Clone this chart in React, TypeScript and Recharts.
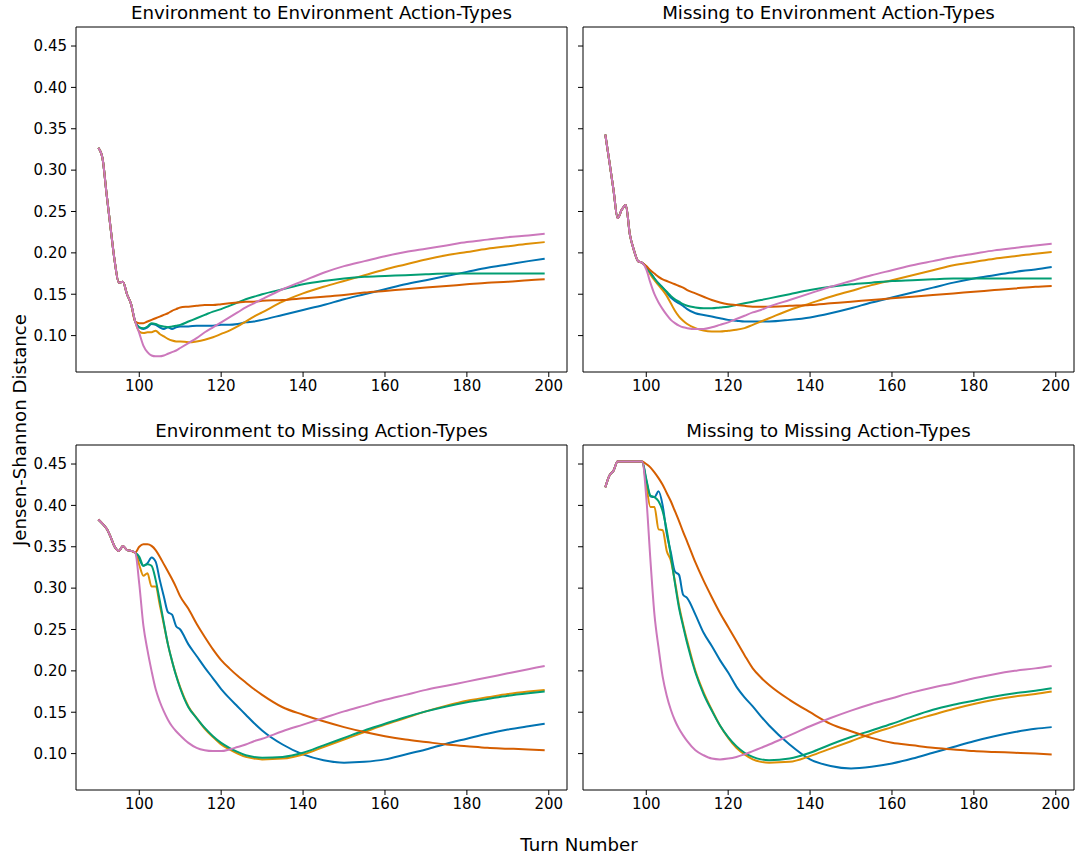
import { LineChart, Line, XAxis, YAxis, ReferenceArea } from 'recharts'

// turn numbers sampled along the x axis
const turns = [
  90, 91, 92, 93, 94, 95, 96, 97, 98, 99, 100, 101, 102, 103, 104, 105, 106, 107, 108, 109, 110,
  112, 114, 116, 118, 120, 122, 124, 126, 128, 130,
  135, 140, 145, 150, 155, 160, 165, 170, 175, 180, 185, 190, 195, 199,
]

const xTicks = [100, 120, 140, 160, 180, 200]
const yTicks = [0.1, 0.15, 0.2, 0.25, 0.3, 0.35, 0.4, 0.45]
const xDomain: [number, number] = [84.55, 204.45]
const yDomain: [number, number] = [0.056, 0.473]

const seriesKeys = ['blue', 'orange', 'green', 'red', 'pink']
const colors: Record<string, string> = {
  blue: '#0173b2',
  orange: '#de8f05',
  green: '#029e73',
  red: '#d55e00',
  pink: '#cc78bc',
}

// shared values for turns 90-99 (all lines coincide), then per-line values from turn 100
const envEnvHead = [0.327, 0.315, 0.272, 0.23, 0.19, 0.164, 0.165, 0.15, 0.138, 0.117]
const envEnvBlue = [0.110, 0.108, 0.110, 0.114, 0.113, 0.110, 0.108, 0.110, 0.108, 0.110, 0.111, 0.111, 0.112, 0.112, 0.112, 0.113, 0.113, 0.114, 0.116, 0.117, 0.119, 0.125, 0.131, 0.137, 0.144, 0.150, 0.156, 0.162, 0.167, 0.172, 0.177, 0.182, 0.186, 0.190, 0.193]
const envEnvOrange = [0.105, 0.103, 0.104, 0.104, 0.106, 0.102, 0.099, 0.096, 0.094, 0.093, 0.093, 0.092, 0.093, 0.095, 0.098, 0.102, 0.106, 0.111, 0.117, 0.123, 0.128, 0.141, 0.151, 0.159, 0.166, 0.173, 0.180, 0.186, 0.192, 0.197, 0.201, 0.205, 0.208, 0.211, 0.213]
const envEnvGreen = [0.110, 0.109, 0.111, 0.115, 0.114, 0.112, 0.111, 0.110, 0.111, 0.112, 0.113, 0.117, 0.121, 0.125, 0.129, 0.132, 0.136, 0.140, 0.144, 0.147, 0.150, 0.156, 0.162, 0.166, 0.169, 0.171, 0.172, 0.173, 0.174, 0.175, 0.175, 0.175, 0.175, 0.175, 0.175]
const envEnvRed = [0.115, 0.115, 0.117, 0.119, 0.121, 0.123, 0.125, 0.127, 0.130, 0.132, 0.134, 0.135, 0.136, 0.137, 0.137, 0.138, 0.139, 0.140, 0.141, 0.141, 0.142, 0.143, 0.145, 0.147, 0.149, 0.152, 0.154, 0.156, 0.158, 0.160, 0.162, 0.164, 0.165, 0.167, 0.168]
const envEnvPink = [0.103, 0.088, 0.080, 0.076, 0.075, 0.075, 0.076, 0.078, 0.080, 0.082, 0.085, 0.091, 0.097, 0.104, 0.110, 0.116, 0.122, 0.128, 0.134, 0.139, 0.144, 0.156, 0.166, 0.176, 0.184, 0.190, 0.196, 0.201, 0.205, 0.209, 0.213, 0.216, 0.219, 0.221, 0.223]

const misEnvHead = [0.343, 0.31, 0.276, 0.242, 0.252, 0.258, 0.222, 0.203, 0.19, 0.188]
const misEnvBlue = [0.183, 0.176, 0.169, 0.163, 0.158, 0.152, 0.146, 0.142, 0.139, 0.136, 0.132, 0.127, 0.125, 0.123, 0.121, 0.119, 0.118, 0.117, 0.117, 0.117, 0.117, 0.119, 0.122, 0.127, 0.133, 0.140, 0.146, 0.152, 0.158, 0.164, 0.169, 0.173, 0.177, 0.180, 0.183]
const misEnvOrange = [0.183, 0.174, 0.167, 0.161, 0.155, 0.148, 0.139, 0.130, 0.123, 0.118, 0.114, 0.109, 0.106, 0.105, 0.105, 0.106, 0.107, 0.109, 0.113, 0.117, 0.121, 0.131, 0.139, 0.147, 0.154, 0.161, 0.167, 0.173, 0.179, 0.185, 0.189, 0.193, 0.196, 0.199, 0.201]
const misEnvGreen = [0.183, 0.176, 0.169, 0.163, 0.158, 0.153, 0.148, 0.144, 0.141, 0.138, 0.136, 0.134, 0.133, 0.133, 0.134, 0.135, 0.137, 0.139, 0.141, 0.143, 0.145, 0.150, 0.155, 0.159, 0.162, 0.164, 0.166, 0.167, 0.168, 0.169, 0.169, 0.169, 0.169, 0.169, 0.169]
const misEnvRed = [0.184, 0.179, 0.175, 0.171, 0.168, 0.166, 0.164, 0.162, 0.160, 0.158, 0.155, 0.151, 0.147, 0.143, 0.140, 0.138, 0.137, 0.136, 0.135, 0.135, 0.135, 0.136, 0.137, 0.139, 0.141, 0.143, 0.145, 0.147, 0.149, 0.151, 0.153, 0.155, 0.157, 0.159, 0.160]
const misEnvPink = [0.180, 0.164, 0.150, 0.140, 0.132, 0.125, 0.119, 0.115, 0.112, 0.110, 0.109, 0.108, 0.108, 0.110, 0.113, 0.116, 0.120, 0.124, 0.128, 0.131, 0.135, 0.143, 0.151, 0.159, 0.166, 0.173, 0.179, 0.185, 0.190, 0.195, 0.199, 0.203, 0.206, 0.209, 0.211]

const envMisHead = [0.383, 0.378, 0.372, 0.362, 0.35, 0.345, 0.351, 0.346, 0.345, 0.343]
const envMisBlue = [0.335, 0.327, 0.330, 0.337, 0.332, 0.310, 0.290, 0.271, 0.268, 0.254, 0.250, 0.232, 0.218, 0.204, 0.191, 0.178, 0.167, 0.157, 0.147, 0.137, 0.128, 0.111, 0.099, 0.092, 0.089, 0.090, 0.093, 0.099, 0.105, 0.112, 0.118, 0.124, 0.129, 0.133, 0.136]
const envMisOrange = [0.328, 0.315, 0.318, 0.302, 0.302, 0.280, 0.256, 0.232, 0.212, 0.195, 0.180, 0.157, 0.143, 0.130, 0.120, 0.111, 0.105, 0.100, 0.096, 0.094, 0.093, 0.094, 0.099, 0.108, 0.117, 0.126, 0.135, 0.143, 0.151, 0.158, 0.164, 0.168, 0.172, 0.175, 0.177]
const envMisGreen = [0.338, 0.327, 0.329, 0.327, 0.310, 0.285, 0.258, 0.232, 0.212, 0.194, 0.179, 0.156, 0.143, 0.131, 0.121, 0.113, 0.107, 0.102, 0.098, 0.096, 0.095, 0.096, 0.101, 0.110, 0.119, 0.128, 0.136, 0.144, 0.151, 0.157, 0.162, 0.166, 0.170, 0.173, 0.175]
const envMisRed = [0.350, 0.353, 0.353, 0.351, 0.346, 0.338, 0.329, 0.320, 0.311, 0.301, 0.290, 0.275, 0.257, 0.241, 0.226, 0.213, 0.203, 0.194, 0.186, 0.178, 0.171, 0.156, 0.147, 0.139, 0.132, 0.126, 0.121, 0.117, 0.114, 0.111, 0.109, 0.107, 0.106, 0.105, 0.104]
const envMisPink = [0.305, 0.255, 0.225, 0.200, 0.178, 0.163, 0.151, 0.141, 0.133, 0.127, 0.122, 0.113, 0.107, 0.104, 0.103, 0.103, 0.105, 0.108, 0.111, 0.115, 0.118, 0.127, 0.135, 0.143, 0.151, 0.158, 0.165, 0.171, 0.177, 0.182, 0.187, 0.192, 0.197, 0.202, 0.206]

const misMisHead = [0.422, 0.436, 0.442, 0.453, 0.453, 0.453, 0.453, 0.453, 0.453, 0.453]
const misMisBlue = [0.430, 0.411, 0.410, 0.417, 0.400, 0.366, 0.343, 0.320, 0.316, 0.292, 0.288, 0.268, 0.246, 0.230, 0.213, 0.198, 0.181, 0.168, 0.157, 0.145, 0.134, 0.111, 0.093, 0.085, 0.082, 0.084, 0.088, 0.094, 0.101, 0.108, 0.115, 0.121, 0.126, 0.130, 0.132]
const misMisOrange = [0.425, 0.398, 0.398, 0.371, 0.370, 0.345, 0.333, 0.308, 0.279, 0.256, 0.236, 0.200, 0.174, 0.153, 0.134, 0.119, 0.107, 0.099, 0.093, 0.090, 0.089, 0.090, 0.097, 0.106, 0.115, 0.124, 0.132, 0.140, 0.147, 0.154, 0.160, 0.165, 0.169, 0.172, 0.175]
const misMisGreen = [0.432, 0.412, 0.410, 0.405, 0.393, 0.370, 0.339, 0.306, 0.276, 0.254, 0.233, 0.198, 0.172, 0.152, 0.134, 0.120, 0.109, 0.101, 0.096, 0.093, 0.092, 0.094, 0.101, 0.111, 0.120, 0.128, 0.136, 0.145, 0.153, 0.159, 0.164, 0.169, 0.173, 0.176, 0.179]
const misMisRed = [0.450, 0.446, 0.440, 0.433, 0.425, 0.415, 0.405, 0.393, 0.381, 0.368, 0.356, 0.331, 0.309, 0.289, 0.270, 0.253, 0.236, 0.219, 0.203, 0.192, 0.183, 0.165, 0.150, 0.136, 0.127, 0.119, 0.113, 0.110, 0.107, 0.105, 0.103, 0.102, 0.101, 0.100, 0.099]
const misMisPink = [0.410, 0.335, 0.268, 0.228, 0.193, 0.170, 0.153, 0.140, 0.130, 0.122, 0.115, 0.104, 0.098, 0.094, 0.093, 0.094, 0.096, 0.099, 0.103, 0.107, 0.111, 0.122, 0.133, 0.143, 0.152, 0.160, 0.167, 0.174, 0.180, 0.185, 0.191, 0.196, 0.200, 0.203, 0.206]

function buildRows(head: number[], tails: number[][]) {
  return turns.map((t, i) => {
    const row: Record<string, number> = { t }
    seriesKeys.forEach((k, s) => {
      row[k] = i < head.length ? head[i] : tails[s][i - head.length]
    })
    return row
  })
}

const panels = [
  { title: 'Environment to Environment Action-Types', left: 76, top: 27, yLabels: true,
    rows: buildRows(envEnvHead, [envEnvBlue, envEnvOrange, envEnvGreen, envEnvRed, envEnvPink]) },
  { title: 'Missing to Environment Action-Types', left: 583, top: 27, yLabels: false,
    rows: buildRows(misEnvHead, [misEnvBlue, misEnvOrange, misEnvGreen, misEnvRed, misEnvPink]) },
  { title: 'Environment to Missing Action-Types', left: 76, top: 445, yLabels: true,
    rows: buildRows(envMisHead, [envMisBlue, envMisOrange, envMisGreen, envMisRed, envMisPink]) },
  { title: 'Missing to Missing Action-Types', left: 583, top: 445, yLabels: false,
    rows: buildRows(misMisHead, [misMisBlue, misMisOrange, misMisGreen, misMisRed, misMisPink]) },
]

const PLOT_W = 491
const PLOT_H = 345
const Y_AXIS_W = 62
const X_AXIS_H = 34
const LABEL_SIZE = 18.2
const TICK_SIZE = 15

function Panel({ title, rows, left, top, yLabels }: any) {
  return (
    <>
      <div
        style={{
          position: 'absolute',
          left,
          top: top - 25,
          width: PLOT_W,
          textAlign: 'center',
          fontSize: LABEL_SIZE,
          lineHeight: '22px',
          color: '#000',
        }}
      >
        {title}
      </div>
      <div style={{ position: 'absolute', left: left - Y_AXIS_W, top: top - 2 }}>
        <LineChart
          width={Y_AXIS_W + PLOT_W + 4}
          height={2 + PLOT_H + X_AXIS_H}
          data={rows}
          margin={{ top: 2, right: 4, left: 0, bottom: 0 }}
        >
          <XAxis
            dataKey="t"
            type="number"
            domain={xDomain}
            ticks={xTicks}
            allowDataOverflow
            height={X_AXIS_H}
            axisLine={false}
            tickSize={5}
            tickMargin={3}
            tickLine={{ stroke: '#000' }}
            tick={{ fill: '#000', fontSize: TICK_SIZE }}
          />
          <YAxis
            type="number"
            domain={yDomain}
            ticks={yTicks}
            allowDataOverflow
            width={Y_AXIS_W}
            axisLine={false}
            tickSize={5}
            tickMargin={4}
            tickLine={{ stroke: '#000' }}
            tick={{ fill: '#000', fontSize: TICK_SIZE }}
            tickFormatter={(v: number) => (yLabels ? v.toFixed(2) : '')}
          />
          {seriesKeys.map((k) => (
            <Line
              key={k}
              type="monotone"
              dataKey={k}
              stroke={colors[k]}
              strokeWidth={2}
              dot={false}
              activeDot={false}
              isAnimationActive={false}
            />
          ))}
          <ReferenceArea
            x1={xDomain[0]}
            x2={xDomain[1]}
            y1={yDomain[0]}
            y2={yDomain[1]}
            fill="none"
            fillOpacity={0}
            stroke="#000"
            strokeWidth={1}
            ifOverflow="visible"
          />
        </LineChart>
      </div>
    </>
  )
}

export default function App() {
  return (
    <div
      style={{
        position: 'absolute',
        left: 0,
        top: 0,
        width: 1079,
        height: 862,
        background: '#fff',
        fontFamily: '"DejaVu Sans", sans-serif',
      }}
    >
      {panels.map((p) => (
        <Panel key={p.title} {...p} />
      ))}
      <div
        style={{
          position: 'absolute',
          left: 429,
          top: 834,
          width: 300,
          textAlign: 'center',
          fontSize: LABEL_SIZE,
          lineHeight: '22px',
        }}
      >
        Turn Number
      </div>
      <div
        style={{
          position: 'absolute',
          left: 20 - 150,
          top: 430 - 11,
          width: 300,
          textAlign: 'center',
          fontSize: LABEL_SIZE,
          lineHeight: '22px',
          transform: 'rotate(-90deg)',
        }}
      >
        Jensen-Shannon Distance
      </div>
    </div>
  )
}
